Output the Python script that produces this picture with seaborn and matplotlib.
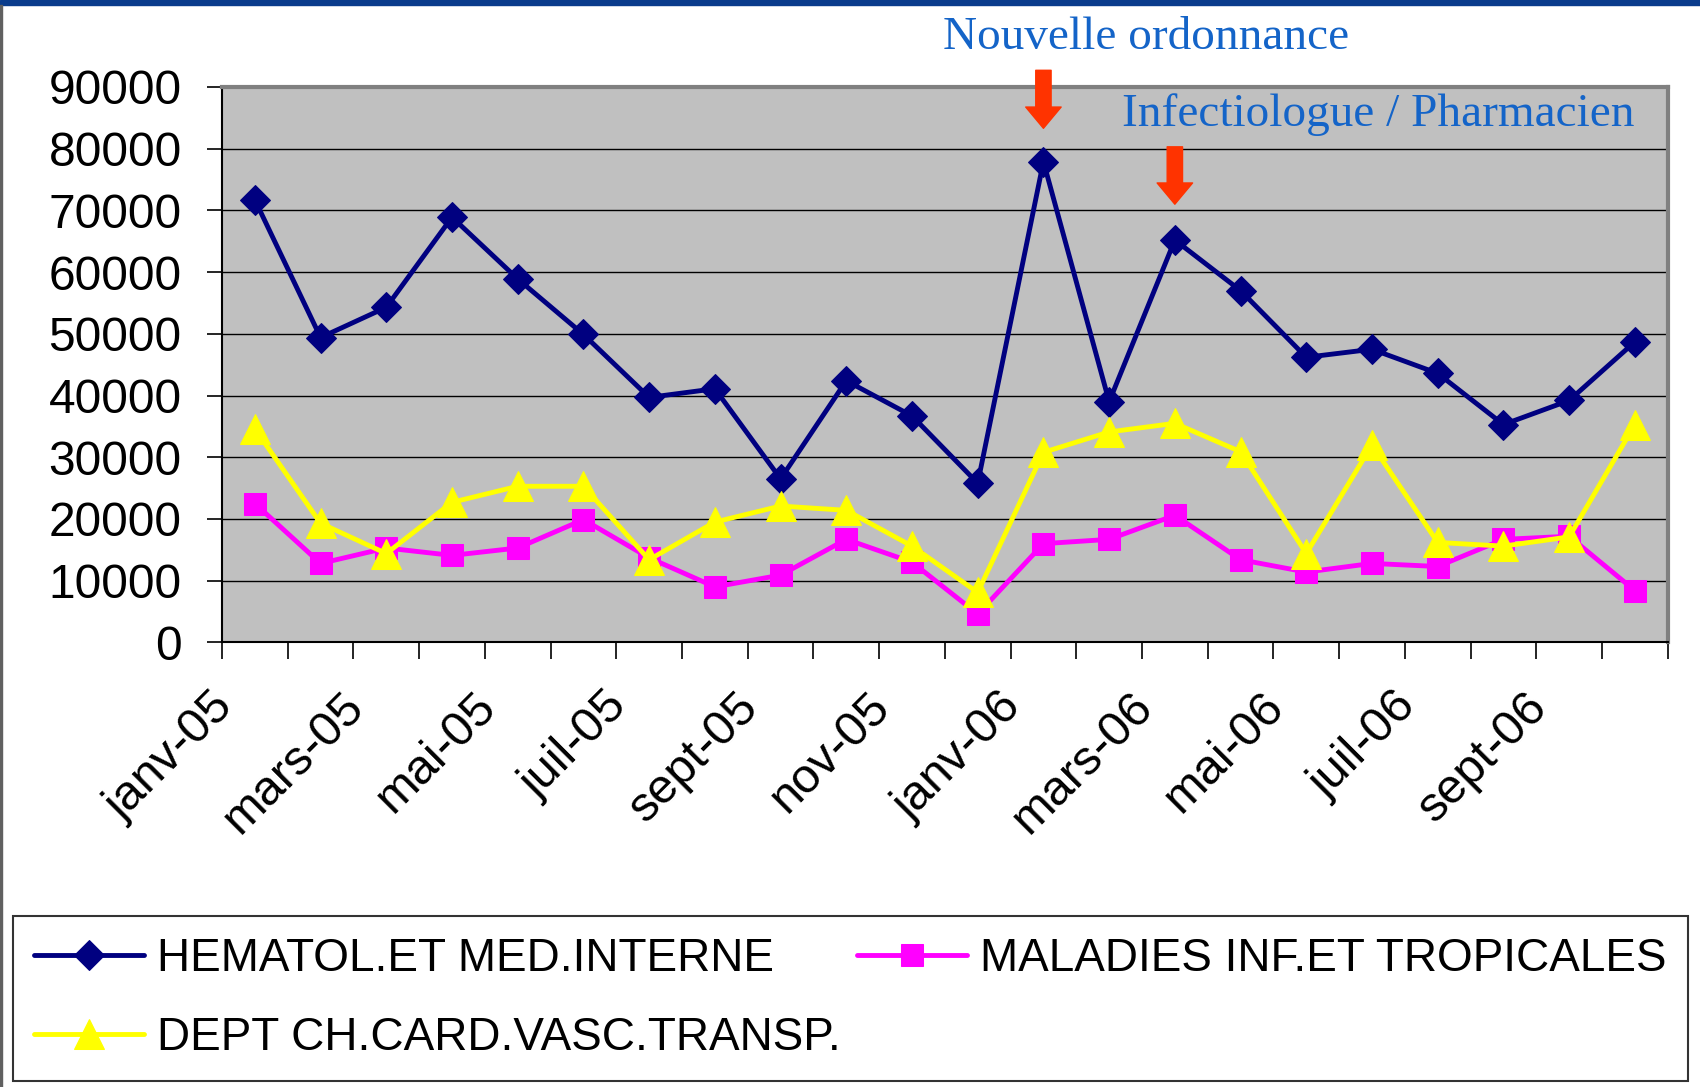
import matplotlib
matplotlib.use("Agg")
import matplotlib.pyplot as plt
import matplotlib.transforms as mtransforms
from matplotlib.patches import Rectangle
import seaborn as sns

# months janv-05 .. oct-06
months = ["janv-05", "févr-05", "mars-05", "avr-05", "mai-05", "juin-05", "juil-05", "août-05",
          "sept-05", "oct-05", "nov-05", "déc-05", "janv-06", "févr-06", "mars-06", "avr-06",
          "mai-06", "juin-06", "juil-06", "août-06", "sept-06", "oct-06"]

hematol = [71700, 49400, 54300, 68900, 58900, 49900, 39700, 41100, 26500, 42400, 36700,
           25800, 77900, 39000, 65200, 57000, 46200, 47500, 43600, 35300, 39200, 48700]
maladies = [22500, 12800, 15300, 14100, 15300, 19900, 13700, 9000, 10900, 16700, 13000,
            4600, 16000, 16700, 20600, 13400, 11400, 12800, 12300, 16700, 17200, 8400]
dept = [34600, 19300, 14400, 22700, 25300, 25300, 13400, 19500, 22100, 21400, 15600,
        8100, 30800, 34100, 35500, 30900, 14400, 32000, 16200, 15600, 17100, 35300]

y_ticks = list(range(0, 90001, 10000))

sns.set_theme(style="white")
plt.rcParams["font.family"] = ["Liberation Sans", "DejaVu Sans"]
plt.rcParams["text.color"] = "black"
plt.rcParams["xtick.color"] = "black"
plt.rcParams["ytick.color"] = "black"

fig = plt.figure(figsize=(17, 10.87), dpi=100)
ax = fig.add_axes([0.1306, 0.409, 0.8504, 0.511])
ax.set_facecolor("#C0C0C0")

idx = list(range(len(months)))
sns.lineplot(x=idx, y=hematol, ax=ax, color="#000080", marker="D", markersize=15,
             markeredgecolor="#000080", linewidth=3.5, label="HEMATOL.ET MED.INTERNE")
sns.lineplot(x=idx, y=maladies, ax=ax, color="#FF00FF", marker="s", markersize=16,
             markeredgecolor="#FF00FF", linewidth=3.5, label="MALADIES INF.ET TROPICALES")
sns.lineplot(x=idx, y=dept, ax=ax, color="#FFFF00", marker="^", markersize=21,
             markeredgecolor="#FFFF00", linewidth=3.5, label="DEPT CH.CARD.VASC.TRANSP.")

ax.set_xlim(-0.5, len(months) - 0.5)
ax.set_ylim(0, 90000)
ax.set_yticks(y_ticks)
ax.set_yticklabels([str(v) for v in y_ticks], fontsize=34.5)
ax.yaxis.grid(True, color="black", linewidth=1.0)
ax.set_axisbelow(True)

# category boundaries as major ticks, labels on every other month
ax.set_xticks([i - 0.5 for i in range(len(months) + 1)])
ax.set_xticklabels([])
ax.set_xticks(idx[::2], minor=True)
ax.set_xticklabels(months[::2], minor=True, fontsize=35, rotation=45,
                   ha="right", va="top", rotation_mode="anchor")
ax.tick_params(axis="x", which="major", direction="out", length=12, width=1.2, color="black", bottom=True)
ax.tick_params(axis="x", which="minor", length=0, pad=30)
ax.tick_params(axis="y", direction="out", length=11, width=1.2, color="black", left=True, pad=18)
offset = mtransforms.ScaledTranslation(-0.45, 0, fig.dpi_scale_trans)
for lab in ax.get_xticklabels(minor=True):
    lab.set_transform(lab.get_transform() + offset)

for side in ["top", "right"]:
    ax.spines[side].set_color("#808080")
    ax.spines[side].set_linewidth(3)
for side in ["left", "bottom"]:
    ax.spines[side].set_color("black")
    ax.spines[side].set_linewidth(1.5)

# annotations
ax.text(13.56, 97900, "Nouvelle ordonnance", fontsize=34, color="#1464C8",
        family=["Liberation Serif", "DejaVu Serif"], ha="center", va="center", clip_on=False)
ax.text(17.09, 85500, "Infectiologue / Pharmacien", fontsize=34, color="#1464C8",
        family=["Liberation Serif", "DejaVu Serif"], ha="center", va="center", clip_on=False)
arrow_style = dict(arrowstyle="simple,head_length=0.9,head_width=1.5,tail_width=0.65",
                   color="#FF3300", mutation_scale=17, shrinkA=0, shrinkB=0)
ax.annotate("", xy=(12, 83300), xytext=(12, 92700), arrowprops=arrow_style, annotation_clip=False)
ax.annotate("", xy=(14, 71000), xytext=(14, 80300), arrowprops=arrow_style, annotation_clip=False)

# legend in a framed box along the bottom
h, l = ax.get_legend_handles_labels()
order = [0, 2, 1]
leg = fig.legend([h[i] for i in order], [l[i] for i in order], ncol=2, mode="expand",
                 loc="lower left", bbox_to_anchor=(0.0077, 0.0055, 0.985, 0.152),
                 fontsize=33, frameon=True, fancybox=False, edgecolor="black",
                 handlelength=2.4, handletextpad=0.3, borderaxespad=0, labelspacing=0.78,
                 borderpad=0.45)
leg.get_frame().set_linewidth(1.5)
ax.get_legend().remove()

# slide decorations: top blue band and left border
fig.patches.append(Rectangle((0, 0.995), 1, 0.005, transform=fig.transFigure,
                             color="#0A3C8C", zorder=0))
fig.patches.append(Rectangle((0, 0), 0.0012, 0.995, transform=fig.transFigure,
                             color="#606060", zorder=0))

fig.savefig("out.png", dpi=100)
